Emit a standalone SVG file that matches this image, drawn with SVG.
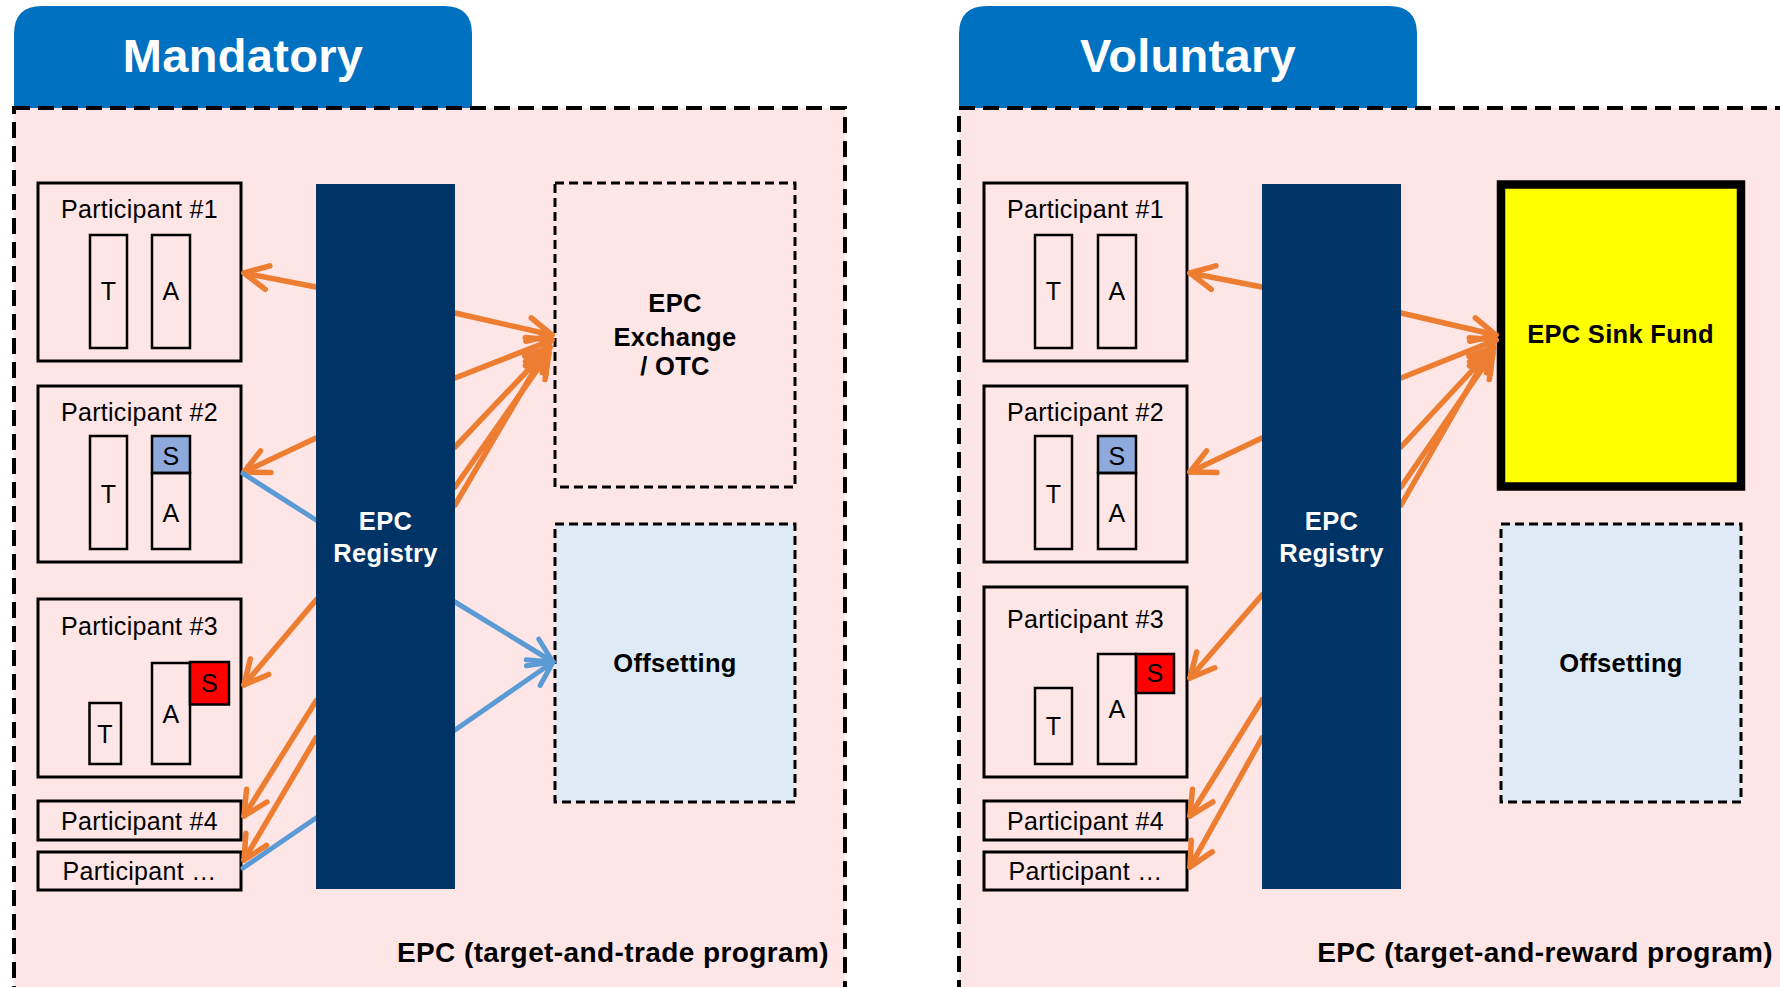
<svg xmlns="http://www.w3.org/2000/svg" width="1780" height="987" viewBox="0 0 1780 987">
<style>
.tab{fill:#0070C0}
.tabt{font-family:"Liberation Sans",Arial,sans-serif;font-weight:bold;font-size:47px;fill:#fff;text-anchor:middle;letter-spacing:0.3px}
.panel{fill:#FFE6E6;stroke:#000;stroke-width:4;stroke-dasharray:16 8}
.box{fill:none;stroke:#000;stroke-width:3}
.ibox{fill:none;stroke:#000;stroke-width:2.5}
.sb{fill:#8EA9DB;stroke:#000;stroke-width:2.5}
.sr{fill:#FF0000;stroke:#000;stroke-width:2.5}
.t{font-family:"Liberation Sans",Arial,sans-serif;font-size:25px;fill:#000;text-anchor:middle;letter-spacing:0.3px}
.b{font-family:"Liberation Sans",Arial,sans-serif;font-weight:bold;font-size:25.5px;fill:#000;text-anchor:middle;letter-spacing:0.3px}
.w{fill:#fff}
.reg{fill:#003366}
.dbox{fill:none;stroke:#000;stroke-width:3;stroke-dasharray:9 5}
.off{fill:#DEEBF7;stroke:#000;stroke-width:3;stroke-dasharray:9 5}
.sink{fill:#FFFF00;stroke:#000;stroke-width:8.5}
.foot{font-family:"Liberation Sans",Arial,sans-serif;font-weight:bold;font-size:28px;fill:#000;text-anchor:end;letter-spacing:0.4px}
.o{stroke:#ED7D31;stroke-width:5.5;fill:none;stroke-linecap:round;marker-end:url(#ao)}
.bl{stroke:#5B9BD5;stroke-width:5;fill:none;stroke-linecap:round}
.bla{stroke:#5B9BD5;stroke-width:5;fill:none;stroke-linecap:round;marker-end:url(#ab)}
</style>
<defs>
<marker id="ao" markerUnits="userSpaceOnUse" viewBox="-30 -16 34 32" markerWidth="34" markerHeight="32" refX="0" refY="0" orient="auto" overflow="visible">
<path d="M-24,-12 L0,0 L-24,12" fill="none" stroke="#ED7D31" stroke-width="5.5" stroke-linecap="round" stroke-linejoin="round"/>
</marker>
<marker id="ab" markerUnits="userSpaceOnUse" viewBox="-30 -16 34 32" markerWidth="34" markerHeight="32" refX="0" refY="0" orient="auto" overflow="visible">
<path d="M-24,-12 L0,0 L-24,12" fill="none" stroke="#5B9BD5" stroke-width="5" stroke-linecap="round" stroke-linejoin="round"/>
</marker>
</defs>

<!-- Mandatory panel -->
<g id="mandatory-tab">
<path class="tab" d="M14,110 L14,34 Q14,6 42,6 L444,6 Q472,6 472,34 L472,110 Z"/>
<text class="tabt" x="243" y="72">Mandatory</text>
</g>
<g id="mandatory-panel">
<rect class="panel" x="14" y="108" width="831" height="900"/>
<text class="foot" x="829" y="962">EPC (target-and-trade program)</text>
</g>

<g id="m-p1">
<rect class="box" x="38" y="183" width="203" height="178"/>
<text class="t" x="139.5" y="218">Participant #1</text>
<rect class="ibox" x="90" y="235" width="37" height="113"/>
<text class="t" x="108.5" y="300">T</text>
<rect class="ibox" x="152" y="235" width="38" height="113"/>
<text class="t" x="171" y="300">A</text>
</g>
<g id="m-p2">
<rect class="box" x="38" y="386" width="203" height="176"/>
<text class="t" x="139.5" y="421">Participant #2</text>
<rect class="ibox" x="90" y="436" width="37" height="113"/>
<text class="t" x="108.5" y="503">T</text>
<rect class="sb" x="152" y="436" width="38" height="37"/>
<text class="t" x="171" y="465">S</text>
<rect class="ibox" x="152" y="473" width="38" height="76"/>
<text class="t" x="171" y="522">A</text>
</g>
<g id="m-p3">
<rect class="box" x="38" y="599" width="203" height="178"/>
<text class="t" x="139.5" y="635">Participant #3</text>
<rect class="ibox" x="89.5" y="703" width="31.5" height="61"/>
<text class="t" x="105" y="743">T</text>
<rect class="ibox" x="152" y="663" width="38" height="101"/>
<text class="t" x="171" y="723">A</text>
<rect class="sr" x="190" y="662" width="39" height="42.5"/>
<text class="t" x="209.5" y="692">S</text>
</g>
<g id="m-p4">
<rect class="box" x="38" y="801" width="203" height="39"/>
<text class="t" x="139.5" y="830">Participant #4</text>
</g>
<g id="m-pn">
<rect class="box" x="38" y="852" width="203" height="38"/>
<text class="t" x="139.5" y="880">Participant …</text>
</g>
<g id="m-exchange">
<rect class="dbox" x="555" y="183" width="240" height="304"/>
<text class="b" x="675" y="312">EPC</text>
<text class="b" x="675" y="345.5">Exchange</text>
<text class="b" x="675" y="375">/ OTC</text>
</g>
<g id="m-offsetting">
<rect class="off" x="555" y="524" width="240" height="278"/>
<text class="b" x="675" y="672">Offsetting</text>
</g>

<!-- Voluntary panel -->
<g id="voluntary-tab">
<path class="tab" d="M959,110 L959,34 Q959,6 987,6 L1389,6 Q1417,6 1417,34 L1417,110 Z"/>
<text class="tabt" x="1188" y="72">Voluntary</text>
</g>
<g id="voluntary-panel">
<rect class="panel" x="959" y="108" width="900" height="900"/>
<text class="foot" x="1773" y="962">EPC (target-and-reward program)</text>
</g>

<g id="v-p1">
<rect class="box" x="984" y="183" width="203" height="178"/>
<text class="t" x="1085.5" y="218">Participant #1</text>
<rect class="ibox" x="1035" y="235" width="37" height="113"/>
<text class="t" x="1053.5" y="300">T</text>
<rect class="ibox" x="1098" y="235" width="38" height="113"/>
<text class="t" x="1117" y="300">A</text>
</g>
<g id="v-p2">
<rect class="box" x="984" y="386" width="203" height="176"/>
<text class="t" x="1085.5" y="421">Participant #2</text>
<rect class="ibox" x="1035" y="436" width="37" height="113"/>
<text class="t" x="1053.5" y="503">T</text>
<rect class="sb" x="1098" y="436" width="38" height="37"/>
<text class="t" x="1117" y="465">S</text>
<rect class="ibox" x="1098" y="473" width="38" height="76"/>
<text class="t" x="1117" y="522">A</text>
</g>
<g id="v-p3">
<rect class="box" x="984" y="587" width="203" height="190"/>
<text class="t" x="1085.5" y="628">Participant #3</text>
<rect class="ibox" x="1035" y="688" width="37" height="76"/>
<text class="t" x="1053.5" y="735">T</text>
<rect class="ibox" x="1098" y="654" width="38" height="110"/>
<text class="t" x="1117" y="718">A</text>
<rect class="sr" x="1136" y="654" width="38" height="39"/>
<text class="t" x="1155" y="682">S</text>
</g>
<g id="v-p4">
<rect class="box" x="984" y="801" width="203" height="39"/>
<text class="t" x="1085.5" y="830">Participant #4</text>
</g>
<g id="v-pn">
<rect class="box" x="984" y="852" width="203" height="38"/>
<text class="t" x="1085.5" y="880">Participant …</text>
</g>
<g id="v-sinkfund">
<rect class="sink" x="1501" y="184.5" width="240" height="302"/>
<text class="b" x="1620.5" y="343">EPC Sink Fund</text>
</g>
<g id="v-offsetting">
<rect class="off" x="1501" y="524" width="240" height="278"/>
<text class="b" x="1621" y="672">Offsetting</text>
</g>

<!-- Connectors -->
<g id="connectors">
<line class="o" x1="316" y1="287" x2="244" y2="273"/>
<line class="o" x1="316" y1="438" x2="244" y2="472"/>
<line class="o" x1="316" y1="600" x2="244" y2="685"/>
<line class="o" x1="316" y1="701" x2="244" y2="816"/>
<line class="o" x1="316" y1="738" x2="244" y2="860"/>
<line class="o" x1="455" y1="313" x2="552" y2="335"/>
<line class="o" x1="455" y1="378" x2="552" y2="340"/>
<line class="o" x1="455" y1="447" x2="550" y2="347"/>
<line class="o" x1="455" y1="487" x2="549" y2="353"/>
<line class="o" x1="455" y1="505" x2="548" y2="347"/>
<line class="bl" x1="243" y1="473.5" x2="316" y2="520"/>
<line class="bl" x1="243" y1="868" x2="316" y2="818"/>
<line class="bla" x1="455" y1="602" x2="553" y2="662"/>
<line class="bla" x1="455" y1="730" x2="553" y2="662"/>

<line class="o" x1="1262" y1="287" x2="1190" y2="273"/>
<line class="o" x1="1262" y1="438" x2="1190" y2="472"/>
<line class="o" x1="1262" y1="595" x2="1190" y2="678"/>
<line class="o" x1="1262" y1="700" x2="1190" y2="816"/>
<line class="o" x1="1262" y1="738" x2="1190" y2="867"/>
<line class="o" x1="1401" y1="313" x2="1496" y2="335"/>
<line class="o" x1="1401" y1="378" x2="1496" y2="340"/>
<line class="o" x1="1401" y1="447" x2="1494" y2="347"/>
<line class="o" x1="1401" y1="487" x2="1493" y2="353"/>
<line class="o" x1="1401" y1="505" x2="1492" y2="347"/>
</g>

<g id="m-registry">
<rect class="reg" x="316" y="184" width="139" height="705"/>
<text class="b w" x="385.5" y="530">EPC</text>
<text class="b w" x="385.5" y="562">Registry</text>
</g>
<g id="v-registry">
<rect class="reg" x="1262" y="184" width="139" height="705"/>
<text class="b w" x="1331.5" y="530">EPC</text>
<text class="b w" x="1331.5" y="562">Registry</text>
</g>
</svg>
